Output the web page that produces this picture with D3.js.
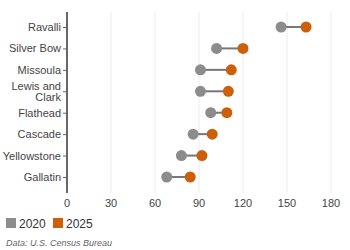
<!DOCTYPE html>
<html>
<head>
<meta charset="utf-8">
<script src="https://cdn.jsdelivr.net/npm/d3@7"></script>
<style>
  body { margin: 0; background: #fff; }
  svg { font-family: "Liberation Sans", Arial, sans-serif; }
</style>
</head>
<body>
<div id="vis"></div>
<script>
const counties = ["Ravalli", "Silver Bow", "Missoula", "Lewis and Clark", "Flathead", "Cascade", "Yellowstone", "Gallatin"];
const values2020 = [146, 102, 91, 91, 98, 86, 78, 68];
const values2025 = [163, 120, 112, 110, 109, 99, 92, 84];
const xTicks = [0, 30, 60, 90, 120, 150, 180];
const legendLabels = ["2020", "2025"];
const source = "Data: U.S. Census Bureau";

const colors = { y2020: "#8c8c8c", y2025: "#cc5f0a" };

const width = 350, height = 250;
const margin = { top: 27, right: 19, bottom: 73, left: 67 };

const svg = d3.select("#vis")
    .append("svg")
    .attr("width", width)
    .attr("height", height);

const x = d3.scaleLinear()
    .domain([0, 180])
    .range([margin.left, margin.left + 264]);

// row centres
const y = d3.scalePoint()
    .domain(counties)
    .range([margin.top, height - margin.bottom])
    .padding(0);

// gridlines
svg.append("g")
    .selectAll("line")
    .data(xTicks.slice(1))
    .enter()
    .append("line")
    .attr("x1", d => x(d)).attr("x2", d => x(d))
    .attr("y1", 12).attr("y2", 193)
    .attr("stroke", "#ebebeb")
    .attr("stroke-width", 1);

// x axis labels
svg.append("g")
    .selectAll("text")
    .data(xTicks)
    .enter()
    .append("text")
    .attr("x", d => x(d))
    .attr("y", 207)
    .attr("text-anchor", "middle")
    .attr("font-size", 11)
    .attr("fill", "#444")
    .text(d => d);

// y axis
const yAxis = svg.append("g")
    .attr("transform", "translate(" + margin.left + ",0)")
    .call(d3.axisLeft(y).tickSize(4).tickPadding(2));
yAxis.select(".domain")
    .attr("d", "M0,12V193")
    .attr("stroke", "#333")
    .attr("stroke-width", 1.5);
yAxis.selectAll(".tick line").attr("stroke", "#666");
yAxis.selectAll(".tick text")
    .attr("font-size", 11)
    .attr("fill", "#444")
    .attr("font-family", "Liberation Sans, Arial, sans-serif")
    .each(function (d) {
        if (d === "Lewis and Clark") {
            const t = d3.select(this).text(null).attr("dy", null);
            t.append("tspan").attr("x", -6).attr("y", -1.5).text("Lewis and");
            t.append("tspan").attr("x", -6).attr("y", 9.5).text("Clark");
        }
    });

const rowData = counties.map((c, i) => ({ county: c, a: values2020[i], b: values2025[i] }));
const cy = d => y(d.county);

// connectors
svg.append("g")
    .selectAll("line")
    .data(rowData)
    .enter()
    .append("line")
    .attr("x1", d => x(d.a)).attr("x2", d => x(d.b))
    .attr("y1", cy).attr("y2", cy)
    .attr("stroke", "#777")
    .attr("stroke-width", 2);

svg.append("g")
    .selectAll("circle")
    .data(rowData)
    .enter()
    .append("circle")
    .attr("cx", d => x(d.a))
    .attr("cy", cy)
    .attr("r", 5.5)
    .attr("fill", colors.y2020);

svg.append("g")
    .selectAll("circle")
    .data(rowData)
    .enter()
    .append("circle")
    .attr("cx", d => x(d.b))
    .attr("cy", cy)
    .attr("r", 5.5)
    .attr("fill", colors.y2025);

// legend
const legend = svg.append("g").attr("transform", "translate(6,218)");
const legendColors = [colors.y2020, colors.y2025];
legendLabels.forEach((lab, i) => {
    const g = legend.append("g").attr("transform", "translate(" + (i * 47) + ",0)");
    g.append("rect").attr("width", 10).attr("height", 10).attr("fill", legendColors[i]);
    g.append("text").attr("x", 13).attr("y", 9.5)
        .attr("font-size", 12).attr("fill", "#333").text(lab);
});

svg.append("text")
    .attr("x", 6).attr("y", 246)
    .attr("font-size", 9)
    .attr("font-style", "italic")
    .attr("fill", "#666")
    .text(source);
</script>
</body>
</html>
